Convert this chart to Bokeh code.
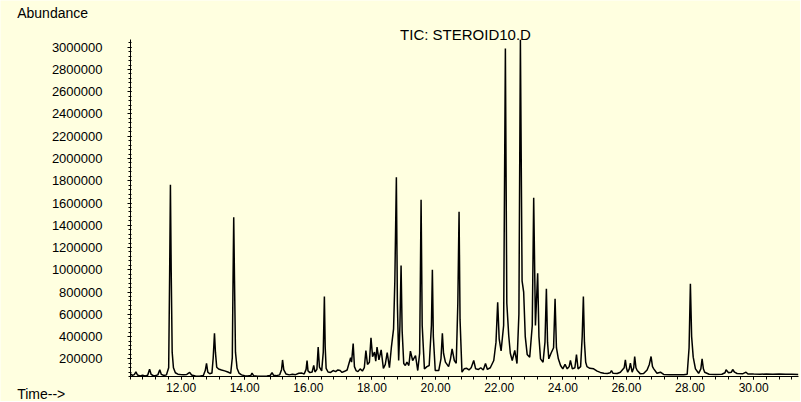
from bokeh.plotting import figure
from bokeh.models import Range1d, FixedTicker, Label, NumeralTickFormatter
from bokeh.embed import file_html
from bokeh.resources import INLINE

# ---- data (retention time in min, abundance) ----
times = [
    10.41, 10.47, 10.53, 10.58, 10.63, 10.71, 10.79, 10.87, 10.95, 11.01,
    11.06, 11.13, 11.20, 11.27, 11.33, 11.38, 11.46, 11.54, 11.61, 11.64,
    11.665, 11.69, 11.72, 11.76, 11.82, 11.90, 11.98, 12.08, 12.18, 12.27,
    12.33, 12.45, 12.58, 12.70, 12.76, 12.80, 12.84, 12.90, 12.97, 13.01,
    13.05, 13.08, 13.12, 13.18, 13.27, 13.37, 13.47, 13.56, 13.61, 13.635,
    13.655, 13.68, 13.71, 13.76, 13.82, 13.90, 14.00, 14.10, 14.19, 14.23,
    14.28, 14.40, 14.55, 14.70, 14.80, 14.86, 14.91, 15.00, 15.10, 15.16,
    15.19, 15.23, 15.30, 15.40, 15.50, 15.60, 15.70, 15.80, 15.87, 15.93,
    15.96, 15.99, 16.05, 16.12, 16.17, 16.21, 16.27, 16.31, 16.35, 16.42,
    16.47, 16.505, 16.53, 16.56, 16.62, 16.70, 16.78, 16.86, 16.93, 17.00,
    17.06, 17.14, 17.22, 17.28, 17.33, 17.36, 17.41, 17.45, 17.50, 17.56,
    17.63, 17.70, 17.76, 17.81, 17.86, 17.92, 17.97, 18.02, 18.08, 18.12,
    18.16, 18.22, 18.29, 18.36, 18.42, 18.48, 18.55, 18.61, 18.68, 18.72,
    18.768, 18.80, 18.84, 18.88, 18.916, 18.95, 19.00, 19.05, 19.10, 19.16,
    19.21, 19.28, 19.37, 19.44, 19.50, 19.545, 19.58, 19.65, 19.73, 19.80,
    19.87, 19.90, 19.93, 19.99, 20.10, 20.17, 20.214, 20.25, 20.31, 20.41,
    20.47, 20.52, 20.59, 20.65, 20.70, 20.739, 20.77, 20.83, 20.90, 20.98,
    21.05, 21.12, 21.20, 21.26, 21.35, 21.42, 21.50, 21.57, 21.63, 21.72,
    21.83, 21.90, 21.953, 22.00, 22.06, 22.14, 22.195, 22.24, 22.30, 22.35,
    22.41, 22.49, 22.56, 22.62, 22.667, 22.72, 22.77, 22.82, 22.88, 22.96,
    23.04, 23.085, 23.14, 23.21, 23.25, 23.30, 23.38, 23.44, 23.484, 23.52,
    23.56, 23.63, 23.71, 23.757, 23.80, 23.86, 23.93, 24.00, 24.07, 24.14,
    24.20, 24.24, 24.30, 24.38, 24.43, 24.48, 24.56, 24.61, 24.647, 24.68,
    24.72, 24.76, 24.85, 24.97, 25.08, 25.18, 25.29, 25.40, 25.49, 25.53,
    25.58, 25.71, 25.81, 25.93, 25.967, 26.00, 26.04, 26.09, 26.125, 26.18,
    26.23, 26.26, 26.30, 26.34, 26.44, 26.54, 26.65, 26.72, 26.775, 26.82,
    26.86, 26.96, 27.07, 27.17, 27.38, 27.60, 27.80, 27.91, 27.97, 28.011,
    28.05, 28.10, 28.17, 28.27, 28.34, 28.379, 28.42, 28.46, 28.60, 28.80,
    29.00, 29.10, 29.133, 29.21, 29.30, 29.341, 29.40, 29.48, 29.65, 29.76,
    29.82, 30.00, 30.20, 30.40, 30.60, 30.80, 31.00, 31.20, 31.40,
]
abundance = [
    65000, 52000, 58000, 82000, 55000, 47000, 52000, 46000, 52000, 106000,
    60000, 48000, 50000, 56000, 102000, 60000, 50000, 56000, 120000, 950000,
    1764000, 980000, 260000, 120000, 75000, 62000, 60000, 58000, 60000, 78000,
    55000, 46000, 43000, 50000, 95000, 160000, 80000, 66000, 72000, 210000,
    430000, 260000, 125000, 108000, 100000, 92000, 82000, 70000, 210000, 950000,
    1473000, 900000, 260000, 115000, 72000, 56000, 48000, 46000, 50000, 72000,
    49000, 43000, 44000, 46000, 50000, 75000, 52000, 49000, 56000, 105000,
    190000, 100000, 63000, 56000, 62000, 58000, 70000, 72000, 64000, 105000,
    185000, 92000, 76000, 82000, 140000, 82000, 105000, 305000, 125000, 92000,
    260000, 760000, 310000, 115000, 82000, 78000, 95000, 85000, 100000, 95000,
    78000, 88000, 100000, 160000, 210000, 170000, 338000, 130000, 95000, 85000,
    110000, 90000, 120000, 275000, 150000, 170000, 389000, 220000, 260000, 180000,
    305000, 190000, 281000, 113000, 150000, 257000, 120000, 300000, 470000, 900000,
    1832000, 700000, 185000, 500000, 1039000, 450000, 158000, 140000, 170000, 140000,
    269000, 185000, 230000, 95000, 250000, 1629000, 500000, 110000, 130000, 140000,
    500000, 1000000, 400000, 95000, 95000, 200000, 430000, 250000, 170000, 130000,
    200000, 290000, 185000, 160000, 700000, 1521000, 550000, 80000, 110000, 115000,
    100000, 120000, 185000, 110000, 105000, 120000, 100000, 158000, 105000, 120000,
    185000, 350000, 709000, 380000, 272000, 500000, 2988000, 700000, 410000, 250000,
    185000, 275000, 158000, 600000, 3066000, 900000, 799000, 400000, 240000, 215000,
    500000, 1647000, 500000, 969000, 400000, 200000, 170000, 350000, 829000, 350000,
    200000, 250000, 300000, 739000, 300000, 200000, 140000, 110000, 150000, 110000,
    130000, 185000, 110000, 120000, 239000, 110000, 130000, 400000, 760000, 350000,
    170000, 130000, 115000, 110000, 90000, 78000, 70000, 68000, 75000, 95000,
    70000, 68000, 80000, 120000, 191000, 120000, 80000, 110000, 161000, 80000,
    120000, 221000, 120000, 95000, 65000, 68000, 100000, 150000, 221000, 130000,
    110000, 70000, 80000, 60000, 58000, 57000, 58000, 62000, 300000, 874000,
    400000, 215000, 110000, 70000, 110000, 200000, 110000, 80000, 62000, 60000,
    62000, 75000, 101000, 75000, 80000, 104000, 80000, 68000, 65000, 80000,
    64000, 63000, 62000, 64000, 62000, 63000, 61000, 62000, 60000,
]

x_major_ticks = [12, 14, 16, 18, 20, 22, 24, 26, 28, 30]
x_minor_ticks = [round(10.4 + 0.4 * i, 2) for i in range(53)]
y_major_ticks = [200000 * i for i in range(1, 16)]
y_minor_ticks = [40000 * i for i in range(1, 77)]

title_text = "TIC: STEROID10.D"
y_title = "Abundance"
x_title = "Time-->"

# ---- layout: page pixel -> data helpers (frame covers the whole canvas) ----
BG = "#FFFFE0"
PX_PER_MIN = 31.81
X0_PAGE, T0 = 130.0, 10.41
ZERO_PAGE, PER_PX = 380.6, 8985.0


def tx(px):
    return T0 + (px - X0_PAGE) / PX_PER_MIN


def ay(py):
    return (ZERO_PAGE - py) * PER_PX


W, H = 800, 401
p = figure(width=W, height=H, output_backend="svg", toolbar_location=None,
           x_range=Range1d(tx(0), tx(W)), y_range=Range1d(ay(H), ay(0)),
           min_border=0, min_border_left=0, min_border_right=0,
           min_border_top=0, min_border_bottom=0)
p.background_fill_color = BG
p.border_fill_color = BG
p.outline_line_color = None
p.xgrid.visible = False
p.ygrid.visible = False

p.line(times, abundance, line_color="black", line_width=1.5)

FONT = "Liberation Sans"
xa = p.xaxis[0]
xa.fixed_location = ay(376)
xa.bounds = (T0, tx(798))
xa.ticker = FixedTicker(ticks=x_major_ticks, minor_ticks=x_minor_ticks)
xa.formatter = NumeralTickFormatter(format="0.00")
xa.major_label_text_font = FONT
xa.major_label_text_font_size = "12px"
xa.major_label_text_color = "black"
xa.major_tick_in = 0
xa.major_tick_out = 3
xa.minor_tick_in = 0
xa.minor_tick_out = 3
xa.major_label_standoff = 3
xa.axis_line_color = "black"
xa.major_tick_line_color = "black"
xa.minor_tick_line_color = "black"

ya = p.yaxis[0]
ya.fixed_location = T0
ya.bounds = (ay(376), ay(39))
ya.ticker = FixedTicker(ticks=y_major_ticks, minor_ticks=y_minor_ticks)
ya.formatter = NumeralTickFormatter(format="0")
ya.major_label_text_font = FONT
ya.major_label_text_font_size = "13px"
ya.major_label_text_color = "black"
ya.major_tick_in = 1
ya.major_tick_out = 3
ya.minor_tick_in = 1
ya.minor_tick_out = 2
ya.major_label_standoff = 25
ya.axis_line_color = "black"
ya.major_tick_line_color = "black"
ya.minor_tick_line_color = "black"

p.add_layout(Label(x=tx(465), y=ay(34), text=title_text, text_font=FONT,
                   text_font_size="15px", text_color="black",
                   text_align="center", text_baseline="middle"))
p.add_layout(Label(x=tx(16.7), y=ay(12), text=y_title, text_font=FONT,
                   text_font_size="14px", text_color="black",
                   text_align="left", text_baseline="middle"))
p.add_layout(Label(x=tx(16.7), y=ay(393), text=x_title, text_font=FONT,
                   text_font_size="14px", text_color="black",
                   text_align="left", text_baseline="middle"))

open("out.html", "w").write(file_html(p, INLINE))
